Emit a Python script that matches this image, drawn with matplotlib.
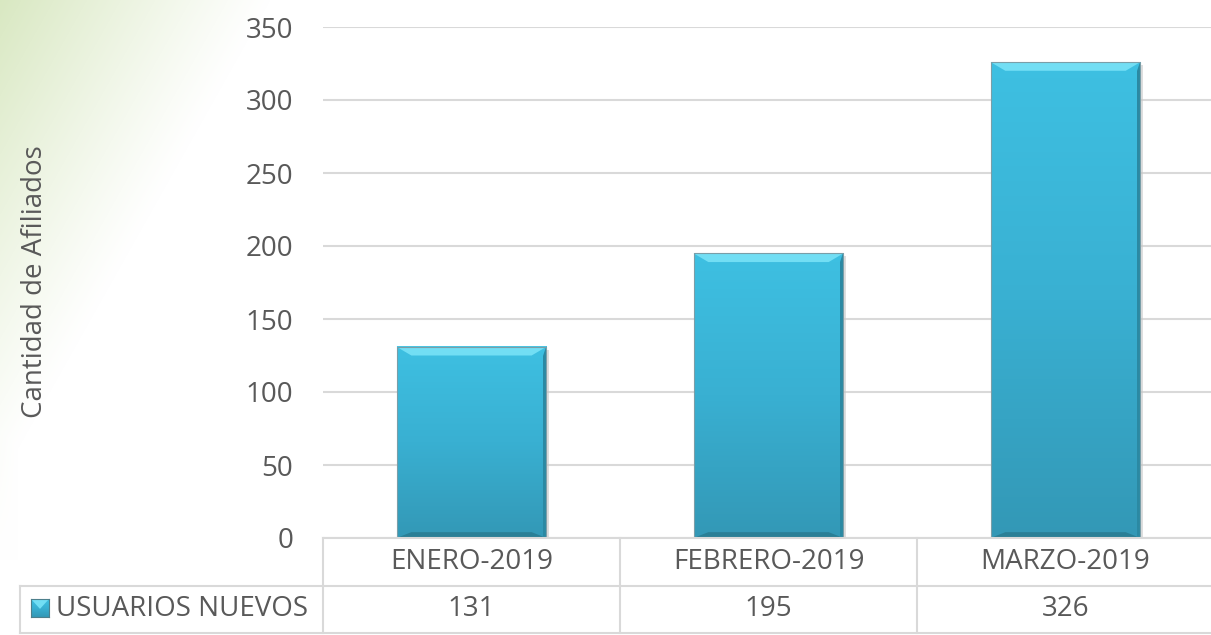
import matplotlib
matplotlib.use('Agg')
import matplotlib.pyplot as plt
import numpy as np
from matplotlib.colors import LinearSegmentedColormap
from matplotlib.patches import Polygon, Rectangle

# data
months  = ['ENERO-2019', 'FEBRERO-2019', 'MARZO-2019']
nuevos  = [131, 195, 326]
series  = 'USUARIOS NUEVOS'
yticks  = [0, 50, 100, 150, 200, 250, 300, 350]
ylabel  = 'Cantidad de Afiliados'

plt.rcParams['font.family'] = ['Open Sans', 'DejaVu Sans']
txtcol = '#595959'
gridcol = '#d9d9d9'
FS = 20

W, H = 1211, 635
fig = plt.figure(figsize=(W/100., H/100.), dpi=100)

# green corner wash in the background
bg = fig.add_axes([0, 0, 1, 1], zorder=-10)
px, py = np.meshgrid(np.arange(W), np.arange(H))
d = px/270. + py/480.
wgt = np.clip(1 - d, 0, 1)**1.1
wgt = np.maximum(wgt, 0.35*np.clip(1 - px/18., 0, 1)*np.clip(1 - py/560., 0, 1))
green = np.array([0.85, 0.91, 0.76])
img = np.ones((H, W, 3))*(1-wgt[..., None]) + green*wgt[..., None]
bg.imshow(img, extent=[0, W, H, 0], aspect='auto')
bg.set_xlim(0, W); bg.set_ylim(H, 0)
bg.axis('off')

# main axes (px -> fraction)
x0, x1 = 323, 1214
ytop, ybot = 27, 538
ax = fig.add_axes([x0/W, 1-ybot/H, (x1-x0)/W, (ybot-ytop)/H])
ax.set_facecolor('none')
ax.set_yticks(yticks)
ax.tick_params(axis='y', length=0, pad=21.5, labelsize=FS, labelcolor=txtcol)
ax.set_xticks([])
for s in ax.spines.values():
    s.set_visible(False)
ax.yaxis.grid(True, color=gridcol, linewidth=1.5)
ax.set_axisbelow(True)

cmap = LinearSegmentedColormap.from_list('bar', ['#3ec0e2', '#39b0d2', '#3398b6'])
grad = np.linspace(0, 1, 256).reshape(-1, 1)
bw = 0.505
bev_t = 6.0   # bevel height in data units
bev_d = 0.05
for i, v in enumerate(nuevos):
    l, r = i - bw/2, i + bw/2
    ax.add_patch(Rectangle((l+0.008, -2), bw, v, facecolor='#c8c8c8', edgecolor='none', zorder=2, alpha=0.6))
    ax.imshow(grad, extent=[l, r, 0, v], cmap=cmap, aspect='auto', zorder=3)
    ax.add_patch(Polygon([(l, v), (r, v), (r-bev_d, v-bev_t), (l+bev_d, v-bev_t)],
                         closed=True, facecolor='#72def4', edgecolor='none', zorder=4))
    ax.add_patch(Polygon([(l, 0), (r, 0), (r-bev_d, 4.0), (l+bev_d, 4.0)],
                         closed=True, facecolor='#2a7f96', edgecolor='none', zorder=4))
    ax.add_patch(Polygon([(r, v), (r, 0), (r-0.012, 0), (r-0.012, v-bev_t)],
                         closed=True, facecolor='#2b89a3', edgecolor='none', zorder=4))
    ax.add_patch(Rectangle((l, 0), bw, v, facecolor='none', edgecolor='#7a9ea8', linewidth=0.8, zorder=5))
ax.set_xlim(-0.5, len(months)-0.5)
ax.set_ylim(0, 350)

fig.text(35/W, 1 - 282/H, ylabel, rotation=90, ha='center', va='center', fontsize=FS, color=txtcol)

# data table under the plot
lw = 1.5
r1, r2, r3 = 538, 586, 633
colx = [323, 620, 917, 1214]
def fx(px): return px/W
def fy(py): return 1 - py/H
fig.add_artist(plt.Line2D([fx(323), fx(1214)], [fy(r1), fy(r1)], color=gridcol, lw=lw))
fig.add_artist(plt.Line2D([fx(20), fx(1214)], [fy(r2), fy(r2)], color=gridcol, lw=lw))
fig.add_artist(plt.Line2D([fx(20), fx(1214)], [fy(r3), fy(r3)], color=gridcol, lw=lw))
fig.add_artist(plt.Line2D([fx(20), fx(20)], [fy(r2), fy(r3)], color=gridcol, lw=lw))
for cx in colx[:-1]:
    fig.add_artist(plt.Line2D([fx(cx), fx(cx)], [fy(r1), fy(r3)], color=gridcol, lw=lw))
for i in range(len(months)):
    cx = (colx[i] + colx[i+1])/2.
    fig.text(fx(cx), fy((r1+r2)/2.), months[i], ha='center', va='center', fontsize=FS, color=txtcol)
    fig.text(fx(cx), fy((r2+r3)/2.), str(nuevos[i]), ha='center', va='center', fontsize=FS, color=txtcol)

# legend key
kax = fig.add_axes([fx(31), fy(617), 18/W, 18/H])
kax.imshow(grad, cmap=cmap, aspect='auto', extent=[0, 1, 0, 1])
kax.add_patch(Polygon([(0, 1), (1, 1), (0.5, 0.45)], closed=True, facecolor='#72def4', edgecolor='none'))
kax.set_xlim(0, 1); kax.set_ylim(0, 1)
kax.set_xticks([]); kax.set_yticks([])
for s in kax.spines.values():
    s.set_color('#4d7f8c'); s.set_linewidth(0.8)
fig.text(fx(56), fy((r2+r3)/2.), series, ha='left', va='center', fontsize=FS, color=txtcol)

plt.savefig('out.png', dpi=100)
